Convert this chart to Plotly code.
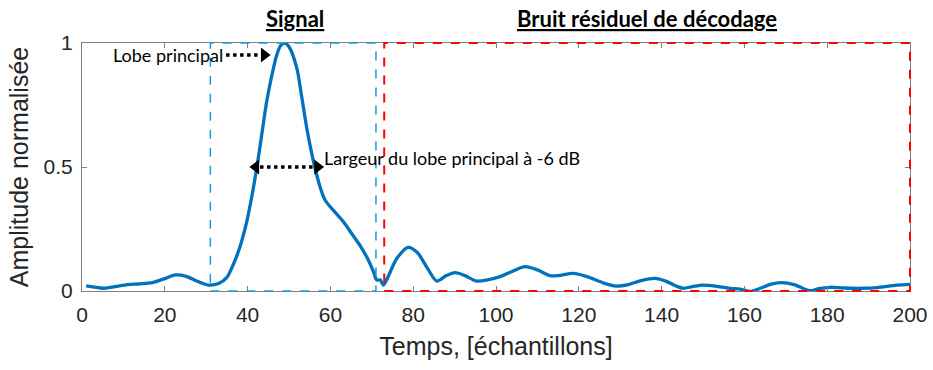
import plotly.graph_objects as go

# Normalised amplitude of the decoded pulse (sample index -> amplitude)
temps = [1, 3, 5, 8, 11, 14, 17, 20, 22.5, 25, 28, 30.5, 33, 35, 36.5, 38,
         39.8, 41, 42.2, 43.5, 44.6, 46, 47, 48, 49, 50, 51.9, 53, 54.3, 55.3,
         56.3, 57.5, 58.7, 61, 63.1, 65, 67.1, 69, 70.4, 71.2, 72, 72.8, 74,
         76, 78.8, 81, 83.5, 85.7, 88, 90.1, 92.5, 95.3, 98, 101, 104, 107,
         110, 113, 115, 118.7, 122, 126, 129.1, 132, 135, 138.4, 141, 143.5,
         145.2, 147.5, 150, 153, 156.5, 159, 161.4, 164, 166.5, 169, 172,
         175.8, 178, 180.7, 184, 188.7, 192, 196.8, 200]
amplitude = [0.021, 0.016, 0.011, 0.018, 0.026, 0.029, 0.034, 0.05, 0.065,
             0.06, 0.038, 0.024, 0.03, 0.055, 0.105, 0.17, 0.28, 0.38, 0.495,
             0.64, 0.763, 0.88, 0.95, 0.99, 1.0, 0.985, 0.898, 0.79, 0.656,
             0.57, 0.495, 0.42, 0.367, 0.32, 0.28, 0.235, 0.185, 0.13, 0.078,
             0.044, 0.045, 0.024, 0.06, 0.13, 0.176, 0.155, 0.09, 0.04, 0.062,
             0.074, 0.062, 0.04, 0.045, 0.058, 0.08, 0.098, 0.085, 0.062,
             0.062, 0.071, 0.058, 0.032, 0.02, 0.026, 0.042, 0.051, 0.04,
             0.02, 0.011, 0.018, 0.024, 0.02, 0.011, 0.008, -0.002, 0.012,
             0.028, 0.034, 0.026, 0.001, 0.01, 0.015, 0.012, 0.011, 0.014,
             0.024, 0.027]

# Axis extents
x_range = [0, 200]
y_range = [0, 1]

# Analysis windows (in samples)
signal_window = [31, 71]
noise_window = [73, 200]

# Main-lobe markers
peak_level = 1.0
half_level = 0.5
lobe_arrow = [34.8, 45.4, 0.952]        # x start, x tip, y
width_arrow = [40.6, 58.3]              # left tip, right tip at -6 dB

x_ticks = [0, 20, 40, 60, 80, 100, 120, 140, 160, 180, 200]
y_ticks = [0, 0.5, 1]
y_tick_labels = ["0", "0.5", "1"]

AXIS_FONT = "Liberation Sans, Arial, sans-serif"
NOTE_FONT = "Lato, Open Sans, sans-serif"
BLUE_BOX = "#1a9bdc"
RED_BOX = "#ff0000"


def xd(v):
    """Sample index -> fraction of the x-axis domain."""
    return (v - x_range[0]) / (x_range[1] - x_range[0])


def yd(v):
    """Amplitude -> fraction of the y-axis domain."""
    return (v - y_range[0]) / (y_range[1] - y_range[0])


fig = go.Figure()

fig.add_trace(go.Scatter(
    x=temps, y=amplitude, mode="lines",
    line=dict(color="#0072bd", width=3.3, shape="spline", smoothing=0.8),
    hoverinfo="skip", showlegend=False,
))

# Signal window and residual-noise window (domain refs so the edges
# lying on the axis frame are not clipped)
fig.add_shape(type="rect", xref="x domain", yref="y domain",
              x0=xd(signal_window[0]), x1=xd(signal_window[1]),
              y0=yd(0), y1=yd(peak_level),
              line=dict(color=BLUE_BOX, width=1.5, dash="dash"))
fig.add_shape(type="rect", xref="x domain", yref="y domain",
              x0=xd(noise_window[0]), x1=xd(noise_window[1]),
              y0=yd(0), y1=yd(peak_level),
              line=dict(color=RED_BOX, width=2, dash="dash"))

# Dotted arrow pointing at the main lobe
fig.add_shape(type="line", xref="x", yref="y",
              x0=lobe_arrow[0], x1=lobe_arrow[1] - 2.6,
              y0=lobe_arrow[2], y1=lobe_arrow[2],
              line=dict(color="black", width=3.5, dash="dot"))
fig.add_trace(go.Scatter(
    x=[lobe_arrow[1] - 1.4], y=[lobe_arrow[2]], mode="markers",
    marker=dict(symbol="triangle-right", size=13, color="black"),
    hoverinfo="skip", showlegend=False,
))

# Double dotted arrow for the -6 dB width
fig.add_shape(type="line", xref="x", yref="y",
              x0=width_arrow[0] + 2.4, x1=width_arrow[1] - 2.4,
              y0=half_level, y1=half_level,
              line=dict(color="black", width=3.5, dash="dot"))
fig.add_trace(go.Scatter(
    x=[width_arrow[0] + 1.4, width_arrow[1] - 1.4], y=[half_level, half_level],
    mode="markers",
    marker=dict(symbol=["triangle-left", "triangle-right"], size=13,
                color="black"),
    hoverinfo="skip", showlegend=False,
))

fig.add_annotation(x=lobe_arrow[0] - 0.3, y=lobe_arrow[2], xref="x", yref="y",
                   text="Lobe principal", showarrow=False,
                   xanchor="right", yanchor="middle",
                   font=dict(family=NOTE_FONT, size=18, color="black"))
fig.add_annotation(x=width_arrow[1] - 0.3, y=half_level + 0.035,
                   xref="x", yref="y",
                   text="Largeur du lobe principal à -6 dB", showarrow=False,
                   xanchor="left", yanchor="middle",
                   font=dict(family=NOTE_FONT, size=18, color="black"))

# Section headings
fig.add_annotation(x=sum(signal_window) / 2 + 0.5, y=1.1, xref="x",
                   yref="paper", text="<b><u>Signal</u></b>", showarrow=False,
                   xanchor="center", yanchor="middle",
                   font=dict(family=NOTE_FONT, size=22, color="black"))
fig.add_annotation(x=136.5, y=1.1, xref="x", yref="paper",
                   text="<b><u>Bruit résiduel de décodage</u></b>",
                   showarrow=False, xanchor="center", yanchor="middle",
                   font=dict(family=NOTE_FONT, size=22, color="black"))

axis_common = dict(
    showline=True, linecolor="#808080", linewidth=1, mirror="ticks",
    ticks="inside", ticklen=5, tickcolor="#808080", tickwidth=1,
    showgrid=False, zeroline=False, automargin=False,
    tickfont=dict(family=AXIS_FONT, size=21, color="#262626"),
)

fig.update_xaxes(range=x_range, tickvals=x_ticks, ticklabelstandoff=5,
                 title=dict(text="Temps, [échantillons]", standoff=12,
                            font=dict(family=AXIS_FONT, size=25,
                                      color="#262626")),
                 **axis_common)
fig.update_yaxes(range=y_range, tickvals=y_ticks, ticktext=y_tick_labels,
                 ticklabelstandoff=4,
                 title=dict(text="Amplitude normalisée", standoff=7,
                            font=dict(family=AXIS_FONT, size=25,
                                      color="#262626")),
                 **axis_common)

fig.update_layout(
    width=933, height=370,
    margin=dict(l=82, r=23, t=43, b=79),
    paper_bgcolor="white", plot_bgcolor="white",
    showlegend=False,
)

fig.write_html("out.html")
